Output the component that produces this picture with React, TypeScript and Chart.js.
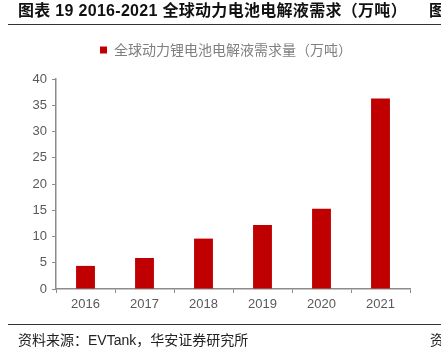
import React, { useEffect, useRef } from "react";
import { Chart, registerables } from "chart.js";

Chart.register(...registerables);

const years = ["2016", "2017", "2018", "2019", "2020", "2021"];
const demand = [4.4, 5.9, 9.6, 12.2, 15.3, 36.3];
const seriesLabel = "全球动力锂电池电解液需求量（万吨）";
const titleText = "图表 19 2016-2021 全球动力电池电解液需求（万吨）";
const sourceText = "资料来源：EVTank，华安证券研究所";

const legendShift = {
  id: "legendShift",
  afterLayout(chart: any) {
    const lg = chart.legend;
    if (lg) {
      lg.left += 42;
      lg.top -= 12;
      lg.bottom -= 12;
    }
  },
};

export default function App() {
  const ref = useRef<HTMLCanvasElement | null>(null);

  useEffect(() => {
    if (!ref.current) return;
    const chart = new Chart(ref.current, {
      type: "bar",
      data: {
        labels: years,
        datasets: [
          {
            label: seriesLabel,
            data: demand,
            backgroundColor: "#C00000",
            borderWidth: 0,
            barPercentage: 0.32,
            categoryPercentage: 1,
          },
        ],
      },
      plugins: [legendShift],
      options: {
        animation: false,
        responsive: false,
        maintainAspectRatio: false,
        layout: { padding: { left: 0, right: 31, top: 36, bottom: 37 } },
        plugins: {
          tooltip: { enabled: false },
          legend: {
            display: true,
            position: "top",
            labels: {
              boxWidth: 7,
              boxHeight: 7,
              padding: 19,
              color: "#7f7f7f",
              font: { family: "'Noto Sans CJK SC', sans-serif", size: 14 },
            },
          },
        },
        scales: {
          x: {
            grid: {
              display: true,
              drawOnChartArea: false,
              drawTicks: true,
              tickLength: 4,
              color: "#8c8c8c",
              offset: true,
            },
            border: { display: true, color: "#8c8c8c", width: 1.5 },
            ticks: {
              color: "#595959",
              padding: 4,
              font: { family: "'Liberation Sans', Arial, sans-serif", size: 13 },
            },
            afterFit: (s: any) => {
              s.height = 30;
            },
          },
          y: {
            min: 0,
            max: 40,
            ticks: {
              stepSize: 5,
              color: "#595959",
              padding: 5,
              font: { family: "'Liberation Sans', Arial, sans-serif", size: 13 },
            },
            grid: {
              display: true,
              drawOnChartArea: false,
              drawTicks: true,
              tickLength: 4,
              color: "#8c8c8c",
            },
            border: { display: true, color: "#8c8c8c", width: 1.5 },
            afterFit: (s: any) => {
              s.width = 56;
            },
          },
        },
      },
    });
    return () => chart.destroy();
  }, []);

  return (
    <div
      style={{
        position: "fixed",
        left: 0,
        top: 0,
        width: 441,
        height: 356,
        background: "#fff",
        overflow: "hidden",
        fontFamily: "'Liberation Sans', 'Noto Sans CJK SC', sans-serif",
      }}
    >
      <canvas
        ref={ref}
        width={441}
        height={356}
        style={{ position: "absolute", left: 0, top: 0, width: 441, height: 356 }}
      />
      <div
        style={{
          position: "absolute",
          left: 18,
          top: 1,
          fontSize: 16,
          fontWeight: 700,
          letterSpacing: "0.3px",
          color: "#111",
          whiteSpace: "nowrap",
          lineHeight: "20px",
        }}
      >
        {titleText}
      </div>
      <div
        style={{
          position: "absolute",
          left: 429,
          top: 1,
          fontSize: 16,
          fontWeight: 700,
          color: "#111",
          lineHeight: "20px",
        }}
      >
        图
      </div>
      <div
        style={{
          position: "absolute",
          left: 8,
          right: 0,
          top: 24,
          height: 1,
          background: "#333",
        }}
      />
      <div
        style={{
          position: "absolute",
          left: 8,
          right: 0,
          top: 324,
          height: 1,
          background: "#333",
        }}
      />
      <div
        style={{
          position: "absolute",
          left: 18,
          top: 330,
          fontSize: 14,
          color: "#222",
          whiteSpace: "nowrap",
          lineHeight: "20px",
        }}
      >
        {sourceText}
      </div>
      <div
        style={{
          position: "absolute",
          left: 430,
          top: 330,
          fontSize: 14,
          color: "#222",
          lineHeight: "20px",
        }}
      >
        资
      </div>
    </div>
  );
}
